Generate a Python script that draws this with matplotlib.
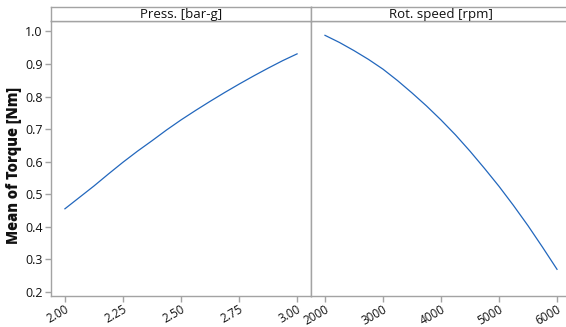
import numpy as np
import matplotlib.pyplot as plt

plt.rcParams['font.family'] = ['Open Sans', 'DejaVu Sans']

# profile data
press = [2.0, 2.0625, 2.125, 2.1875, 2.25, 2.3125, 2.375, 2.4375, 2.5,
         2.5625, 2.625, 2.6875, 2.75, 2.8125, 2.875, 2.9375, 3.0]
torque_press = [0.455, 0.490, 0.525, 0.562, 0.598, 0.632, 0.664, 0.697, 0.728,
                0.757, 0.785, 0.812, 0.838, 0.863, 0.887, 0.910, 0.931]

speed = [2000, 2250, 2500, 2750, 3000, 3250, 3500, 3750, 4000,
         4250, 4500, 4750, 5000, 5250, 5500, 5750, 6000]
torque_speed = [0.988, 0.966, 0.941, 0.914, 0.884, 0.849, 0.811, 0.771, 0.728,
                0.682, 0.632, 0.579, 0.524, 0.465, 0.403, 0.337, 0.269]

press_ticks = [2.0, 2.25, 2.5, 2.75, 3.0]
press_labels = ["2.00", "2.25", "2.50", "2.75", "3.00"]
speed_ticks = [2000, 3000, 4000, 5000, 6000]
y_ticks = [0.2, 0.3, 0.4, 0.5, 0.6, 0.7, 0.8, 0.9, 1.0]

W, H = 566, 327
gray = '#a3a3a3'
blue = '#2267bd'
txt = '#111111'

fig = plt.figure(figsize=(W / 100, H / 100), dpi=100)

def px(x0, y0, x1, y1):
    # pixel box (from top-left) -> figure fraction rect
    return [x0 / W, 1 - y1 / H, (x1 - x0) / W, (y1 - y0) / H]

ax1 = fig.add_axes(px(51, 21, 311, 296))
ax2 = fig.add_axes(px(311, 21, 571, 296), sharey=ax1)
s1 = fig.add_axes(px(51, 7, 311, 21))
s2 = fig.add_axes(px(311, 7, 571, 21))

ax1.plot(press, torque_press, color=blue, lw=0.9)
ax2.plot(speed, torque_speed, color=blue, lw=0.9)

ax1.set_xlim(1.94, 3.06)
ax2.set_xlim(1759, 6241)
ax1.set_ylim(0.187, 1.032)

ax1.set_xticks(press_ticks)
ax1.set_xticklabels(press_labels)
ax2.set_xticks(speed_ticks)
ax1.set_yticks(y_ticks)
ax1.set_yticklabels([f"{v:.1f}" for v in y_ticks])

for ax in (ax1, ax2):
    for sp in ax.spines.values():
        sp.set_color(gray)
        sp.set_linewidth(1)
    ax.tick_params(axis='both', color=gray, length=4, width=1, labelsize=9,
                   labelcolor=txt, pad=2)
    ax.tick_params(axis='x', pad=1, labelsize=8.5)
    for lab in ax.get_xticklabels():
        lab.set_rotation(30)
        lab.set_ha('right')
        lab.set_va('top')
        lab.set_rotation_mode('anchor')
ax2.tick_params(axis='y', left=False, labelleft=False)

fig.text(14 / W, 1 - 165 / H, "Mean of Torque [Nm]", rotation=90, ha='center',
         va='center', fontsize=10.5, fontweight='heavy', color=txt)

for s, title in ((s1, "Press. [bar-g]"), (s2, "Rot. speed [rpm]")):
    s.set_xticks([])
    s.set_yticks([])
    for sp in s.spines.values():
        sp.set_color(gray)
        sp.set_linewidth(1)
    s.text(0.5, 0.45, title, transform=s.transAxes, ha='center', va='center',
           fontsize=9.5, color=txt)

fig.savefig("out.png", dpi=100)
